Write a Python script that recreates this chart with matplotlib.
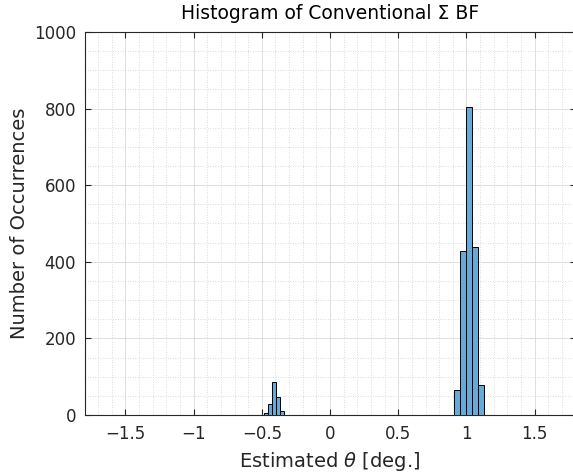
import matplotlib
matplotlib.use('Agg')
import matplotlib.pyplot as plt
from matplotlib.ticker import MultipleLocator
import numpy as np

plt.rcParams['font.family'] = ['DejaVu Sans']
plt.rcParams['axes.unicode_minus'] = True

# histogram bins
left_edges = [-0.51, -0.481, -0.452, -0.423, -0.394, -0.365, -0.336]
left_counts = [1, 4, 29, 86, 48, 10]
right_edges = [0.91, 0.953, 0.996, 1.039, 1.082, 1.125]
right_counts = [65, 429, 805, 439, 77]

x_ticks = [-1.5, -1.0, -0.5, 0.0, 0.5, 1.0, 1.5]
x_ticklabels = ['\u22121.5', '\u22121', '\u22120.5', '0', '0.5', '1', '1.5']
y_ticks = [0, 200, 400, 600, 800, 1000]

fig = plt.figure(figsize=(5.73, 4.74), dpi=100)
ax = fig.add_axes([0.1475, 0.1245, 0.857, 0.808])

face = (0.4, 0.668, 0.845)
for edges, counts in [(left_edges, left_counts), (right_edges, right_counts)]:
    e = np.array(edges)
    ax.bar(e[:-1], counts, width=np.diff(e), align='edge',
           color=face, edgecolor='black', linewidth=0.7, zorder=3)

ax.set_xlim(-1.8, 1.8)
ax.set_ylim(0, 1000)
ax.set_xticks(x_ticks)
ax.set_xticklabels(x_ticklabels)
ax.set_yticks(y_ticks)
ax.xaxis.set_minor_locator(MultipleLocator(0.1))
ax.yaxis.set_minor_locator(MultipleLocator(50))

ax.grid(True, which='major', color='#d9d9d9', linewidth=0.6, zorder=0)
ax.grid(True, which='minor', color='#d0d0d0', linewidth=0.6,
        linestyle=(0, (1, 2)), zorder=0)
ax.set_axisbelow(True)

txt = '#262626'
for s in ax.spines.values():
    s.set_color(txt)
    s.set_linewidth(0.8)
ax.tick_params(axis='x', which='major', pad=7)
ax.tick_params(which='major', direction='in', length=4, width=0.8,
               top=True, right=True, colors=txt, labelsize=12)
ax.tick_params(axis='y', which='major', pad=6)
ax.tick_params(which='minor', length=0, top=True, right=True)

ax.set_xlabel('Estimated $\\theta$ [deg.]', fontsize=14, color=txt, labelpad=5)
ax.set_ylabel('Number of Occurrences', fontsize=14, color=txt, labelpad=4)
ax.set_title('Histogram of Conventional \u03a3 BF', fontsize=13.5, color='black', pad=9)

fig.savefig('out.png', dpi=100)
